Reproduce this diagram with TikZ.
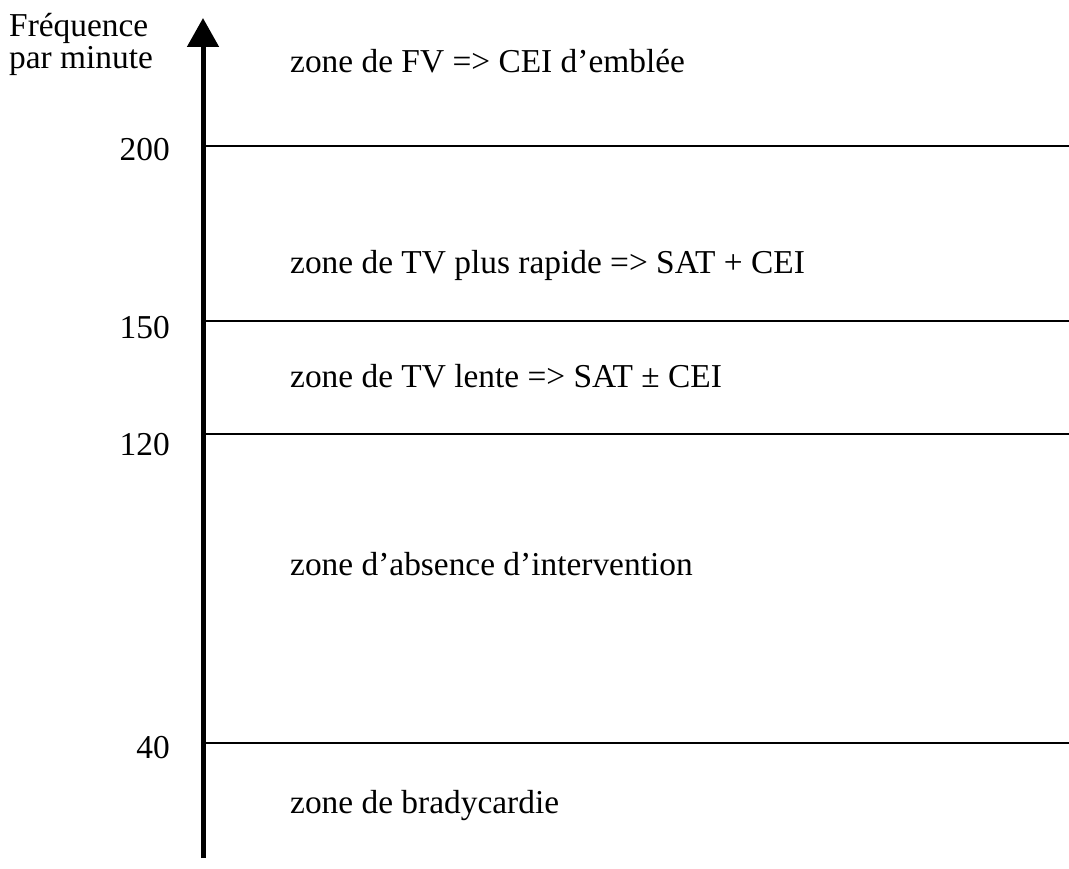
\documentclass[tikz,border=0pt]{standalone}
\usepackage{fontspec}
\setmainfont{Liberation Serif}
\usetikzlibrary{arrows.meta}
\begin{document}
\begin{tikzpicture}[x=1pt,y=-1pt,
  lbl/.style={inner sep=0pt,anchor=base west,font=\fontsize{33.4}{40}\selectfont},
  num/.style={inner sep=0pt,anchor=base east,font=\fontsize{33.4}{40}\selectfont},
  axisline/.style={line width=5pt,-{Triangle[width=31pt,length=29pt]}},
  zoneline/.style={line width=2.2pt}]
\useasboundingbox (0,0) rectangle (1069,869);
% axis
\coordinate (axb) at (203,858);
\coordinate (axt) at (203,18);
\draw[axisline] (axb) -- (axt);
% axis title
\node[lbl] (t1) at (9,37) {Fréquence};
\node[lbl] (t2) at (9,69) {par minute};
% zone boundaries
\foreach \v/\y/\b in {200/146/161,150/321/338,120/434/455,40/743/758}{
  \coordinate (l\v) at (205,\y);
  \coordinate (r\v) at (1069,\y);
  \draw[zoneline] (l\v) -- (r\v);
  \node[num] (n\v) at (170,\b) {\v};
}
% zone labels
\node[lbl] (z1) at (290,73) {zone de FV => CEI d’emblée};
\node[lbl] (z2) at (290,274) {zone de TV plus rapide => SAT + CEI};
\node[lbl] (z3) at (290,387) {zone de TV lente => SAT ± CEI};
\node[lbl] (z4) at (290,575) {zone d’absence d’intervention};
\node[lbl] (z5) at (290,813) {zone de bradycardie};
\end{tikzpicture}
\end{document}
